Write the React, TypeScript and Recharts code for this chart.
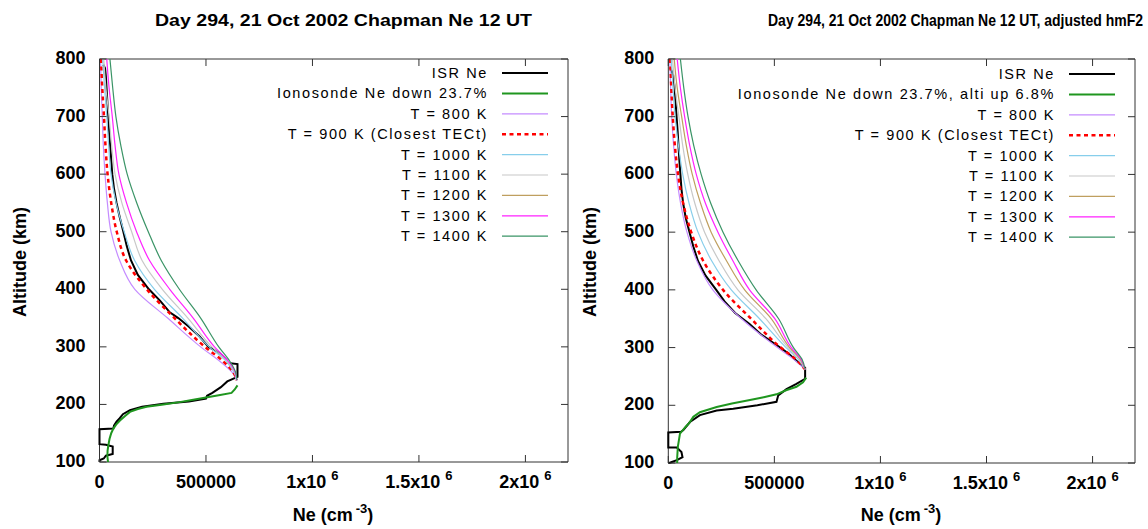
import { ScatterChart, Scatter, XAxis, YAxis, Customized } from 'recharts';

const FONT = '"Liberation Sans", Arial, Helvetica, sans-serif';
const TITLE_FONT = '"Liberation Sans Narrow", "Arial Narrow", "Liberation Sans", Arial, sans-serif';
const AXIS = '#333333';

// axes
const NE_DOMAIN = [0, 2200000];
const ALT_DOMAIN = [100, 800];
const NE_TICKS = [0, 500000, 1000000, 1500000, 2000000];
const NE_TICK_BASE = ['0', '500000', '1x10', '1.5x10', '2x10'];
const NE_TICK_SUP = ['', '', '6', '6', '6'];
const ALT_TICKS = [100, 200, 300, 400, 500, 600, 700, 800];

// ---- left panel: Chapman profiles ----
const MODEL_ALT_L = [800, 750, 700, 650, 600, 550, 500, 450, 400, 350, 300, 275, 255, 242];
const L_T800 = [5000, 8000, 13000, 18000, 26000, 37000, 54000, 95000, 166000, 320000, 475000, 565000, 625000, 645000];
const L_T900 = [7000, 13000, 21000, 28000, 38000, 55000, 81000, 125000, 222000, 352000, 495000, 580000, 630000, 645000];
const L_T1000 = [15000, 24000, 34000, 43000, 54000, 78000, 116000, 165000, 258000, 390000, 515000, 595000, 633000, 645000];
const L_T1100 = [20000, 30000, 45000, 57000, 73000, 105000, 151000, 200000, 295000, 415000, 528000, 600000, 636000, 645000];
const L_T1300 = [34000, 45000, 60000, 73000, 91000, 127000, 174000, 235000, 330000, 440000, 540000, 605000, 638000, 645000];
const L_T1400 = [49000, 62000, 77000, 100000, 130000, 175000, 229000, 290000, 375000, 475000, 560000, 612000, 640000, 645000];

const ISR_ALT_L = [790, 784, 770, 750, 725, 700, 675, 650, 625, 600, 575, 550, 525, 500, 475, 450, 425, 400, 380, 360, 350, 335, 318, 300, 290, 280, 272, 270, 248, 240, 230, 220, 215, 210, 205, 201, 196, 190, 183, 176, 170, 163, 158, 157, 131, 130, 127, 114, 111, 106, 103, 100];
const ISR_NE_L = [18000, 26000, 30000, 33000, 37000, 41000, 45000, 50000, 55000, 60000, 68000, 80000, 95000, 112000, 128000, 148000, 180000, 232000, 285000, 330000, 370000, 420000, 470000, 512000, 560000, 590000, 605000, 648000, 648000, 600000, 570000, 530000, 505000, 500000, 420000, 300000, 200000, 143000, 110000, 95000, 80000, 68000, 65000, 0, 0, 30000, 62000, 62000, 30000, 20000, 0, 0];

const IONO_ALT_L = [100, 110, 120, 130, 140, 150, 158, 165, 172, 180, 187, 192, 196, 200, 204, 208, 212, 216, 220, 226, 233];
const IONO_NE_L = [40000, 37000, 38000, 42000, 47000, 55000, 65000, 78000, 96000, 120000, 143000, 180000, 221000, 300000, 376000, 440000, 500000, 560000, 620000, 635000, 648000];

// ---- right panel: adjusted hmF2 ----
const MODEL_ALT_R = [800, 750, 700, 650, 600, 550, 500, 450, 400, 350, 300, 280, 262];
const R_T800 = [7000, 11000, 16000, 25000, 38000, 58000, 88000, 135000, 210000, 345000, 515000, 590000, 645000];
const R_T900 = [9000, 14000, 21000, 31000, 46000, 70000, 108000, 165000, 258000, 390000, 530000, 600000, 645000];
const R_T1000 = [14000, 22000, 32000, 48000, 68000, 98000, 140000, 205000, 297000, 430000, 555000, 612000, 645000];
const R_T1100 = [20000, 32000, 50000, 68000, 92000, 125000, 171000, 240000, 328000, 460000, 565000, 618000, 645000];
const R_T1200 = [28000, 42000, 63000, 85000, 113000, 152000, 202000, 275000, 360000, 485000, 572000, 622000, 645000];
const R_T1300 = [42000, 57000, 77000, 101000, 132000, 175000, 234000, 305000, 383000, 502000, 580000, 626000, 645000];
const R_T1400 = [57000, 73000, 93000, 120000, 155000, 200000, 258000, 330000, 414000, 520000, 590000, 630000, 645000];

const ISR_ALT_R = [785, 780, 772, 750, 700, 675, 650, 625, 600, 575, 550, 525, 500, 475, 450, 425, 400, 380, 360, 341, 322, 301, 290, 280, 272, 265, 246, 237, 228, 217, 206, 200, 194, 191, 183, 171, 157, 154, 153, 127, 127, 119, 110, 105, 101, 100];
const ISR_NE_R = [8000, 15000, 23000, 30000, 39000, 44000, 48000, 52000, 57000, 62000, 70000, 82000, 100000, 118000, 140000, 175000, 226000, 265000, 315000, 383000, 440000, 524000, 565000, 595000, 620000, 645000, 645000, 604000, 557000, 518000, 510000, 420000, 306000, 228000, 149000, 102000, 71000, 60000, 0, 0, 40000, 62000, 67000, 40000, 10000, 0];

const IONO_ALT_R = [100, 110, 128, 151, 162, 170, 180, 188, 197, 203, 209, 214, 219, 226, 232, 240, 248];
const IONO_NE_R = [42000, 42000, 45000, 55000, 80000, 100000, 118000, 149000, 228000, 300000, 385000, 450000, 510000, 555000, 604000, 635000, 650000];

// legend labels
const LEGEND_NAMES_L = ['ISR Ne', 'Ionosonde Ne down 23.7%', 'T = 800 K', 'T = 900 K (Closest TECt)', 'T = 1000 K', 'T = 1100 K', 'T = 1200 K', 'T = 1300 K', 'T = 1400 K'];
const LEGEND_NAMES_R = ['ISR Ne', 'Ionosonde Ne down 23.7%, alti up 6.8%', 'T = 800 K', 'T = 900 K (Closest TECt)', 'T = 1000 K', 'T = 1100 K', 'T = 1200 K', 'T = 1300 K', 'T = 1400 K'];

type Style = { color: string; width: number; dash?: string };
const STYLES: Style[] = [
  { color: '#000000', width: 2 },
  { color: '#1f961f', width: 2 },
  { color: '#c58cff', width: 1.2 },
  { color: '#ff0000', width: 2.5, dash: '4 3.5' },
  { color: '#87ceeb', width: 1.2 },
  { color: '#c8c8c8', width: 1.2 },
  { color: '#bf9f5f', width: 1.2 },
  { color: '#ff22ff', width: 1.2 },
  { color: '#3a9466', width: 1.2 },
];

const pts = (ne: number[], alt: number[]) => ne.map((v, i) => ({ ne: v, alt: alt[i] }));

type Series = { data: { ne: number; alt: number }[]; style: Style; smooth: boolean };

const LEFT_SERIES: Series[] = [
  { data: pts(ISR_NE_L, ISR_ALT_L), style: STYLES[0], smooth: false },
  { data: pts(IONO_NE_L, IONO_ALT_L), style: STYLES[1], smooth: false },
  { data: pts(L_T800, MODEL_ALT_L), style: STYLES[2], smooth: true },
  { data: pts(L_T900, MODEL_ALT_L), style: STYLES[3], smooth: true },
  { data: pts(L_T1000, MODEL_ALT_L), style: STYLES[4], smooth: true },
  { data: pts(L_T1100, MODEL_ALT_L), style: STYLES[5], smooth: true },
  { data: pts(L_T1300, MODEL_ALT_L), style: STYLES[7], smooth: true },
  { data: pts(L_T1400, MODEL_ALT_L), style: STYLES[8], smooth: true },
];

const RIGHT_SERIES: Series[] = [
  { data: pts(ISR_NE_R, ISR_ALT_R), style: STYLES[0], smooth: false },
  { data: pts(IONO_NE_R, IONO_ALT_R), style: STYLES[1], smooth: false },
  { data: pts(R_T800, MODEL_ALT_R), style: STYLES[2], smooth: true },
  { data: pts(R_T900, MODEL_ALT_R), style: STYLES[3], smooth: true },
  { data: pts(R_T1000, MODEL_ALT_R), style: STYLES[4], smooth: true },
  { data: pts(R_T1100, MODEL_ALT_R), style: STYLES[5], smooth: true },
  { data: pts(R_T1200, MODEL_ALT_R), style: STYLES[6], smooth: true },
  { data: pts(R_T1300, MODEL_ALT_R), style: STYLES[7], smooth: true },
  { data: pts(R_T1400, MODEL_ALT_R), style: STYLES[8], smooth: true },
];

const NoDot = () => null;

function BottomTick(props: any) {
  const { x, y, payload } = props;
  const i = NE_TICKS.indexOf(payload.value);
  const sup = NE_TICK_SUP[i];
  return (
    <g>
      <line x1={x} x2={x} y1={y} y2={y - 7} stroke={AXIS} />
      <text x={x} y={y + 26} textAnchor="middle" fontSize={18} fontWeight="bold" fontFamily={FONT} fill="#000">
        {NE_TICK_BASE[i]}
        {sup && <tspan dx={5} dy={-8} fontSize={13}>{sup}</tspan>}
      </text>
    </g>
  );
}

function TopTick(props: any) {
  const { x, y } = props;
  return <line x1={x} x2={x} y1={y} y2={y + 7} stroke={AXIS} />;
}

function LeftTick(props: any) {
  const { x, y, payload } = props;
  return (
    <g>
      <line x1={x} x2={x + 7} y1={y} y2={y} stroke={AXIS} />
      <text x={x - 14} y={y + 5} textAnchor="end" fontSize={18} fontWeight="bold" fontFamily={FONT} fill="#000">
        {payload.value}
      </text>
    </g>
  );
}

function RightTick(props: any) {
  const { x, y } = props;
  return <line x1={x} x2={x - 7} y1={y} y2={y} stroke={AXIS} />;
}

type PanelProps = {
  left: number;
  series: Series[];
  names: string[];
  title: string;
  titleX: number;
  titleLen: number;
  marginRight: number;
  marginBottom: number;
  yAxisWidth: number;
  yTitleX: number;
  xTitleX: number;
  legendEnd: number;
  legendTop: number;
};

function Panel(p: PanelProps) {
  const Overlay = () => (
    <g>
      <text x={p.titleX} y={26} fontSize={17} fontWeight="bold" fontFamily={TITLE_FONT} fill="#000"
        textLength={p.titleLen} lengthAdjust="spacingAndGlyphs">
        {p.title}
      </text>
      <text x={p.yTitleX} y={262} transform={`rotate(-90 ${p.yTitleX} 262)`} textAnchor="middle" dominantBaseline="central"
        fontSize={18} fontWeight="bold" fontFamily={FONT} fill="#000">
        Altitude (km)
      </text>
      <text x={p.xTitleX} y={521} textAnchor="middle" fontSize={18} fontWeight="bold" fontFamily={FONT} fill="#000">
        Ne (cm<tspan dx={3} dy={-8} fontSize={13}>-3</tspan><tspan dy={8}>)</tspan>
      </text>
      {p.names.map((name, i) => {
        const s = STYLES[i];
        const y = p.legendTop + i * 20.4;
        return (
          <g key={name}>
            <text x={p.legendEnd} y={y + 5} textAnchor="end" fontSize={14.5} letterSpacing={1.6} fontFamily={FONT} fill="#000">
              {name}
            </text>
            <line x1={p.legendEnd + 14} x2={p.legendEnd + 60} y1={y} y2={y} stroke={s.color}
              strokeWidth={s.width} strokeDasharray={s.dash} />
          </g>
        );
      })}
    </g>
  );

  return (
    <div style={{ position: 'absolute', left: p.left, top: 0 }}>
      <ScatterChart width={574} height={529}
        margin={{ top: 58, right: p.marginRight - 1, bottom: p.marginBottom - 1, left: 0 }}>
        <XAxis xAxisId="b" type="number" dataKey="ne" domain={NE_DOMAIN} ticks={NE_TICKS} interval={0}
          height={1} tickSize={0} tickMargin={0} tickLine={false} axisLine={{ stroke: AXIS }} tick={<BottomTick />} />
        <XAxis xAxisId="t" orientation="top" type="number" dataKey="ne" domain={NE_DOMAIN} ticks={NE_TICKS} interval={0}
          height={1} tickSize={0} tickMargin={0} tickLine={false} axisLine={{ stroke: AXIS }} tick={<TopTick />}
          allowDataOverflow />
        <YAxis yAxisId="l" type="number" dataKey="alt" domain={ALT_DOMAIN} ticks={ALT_TICKS} interval={0}
          width={p.yAxisWidth} tickSize={0} tickMargin={0} tickLine={false} axisLine={{ stroke: AXIS }} tick={<LeftTick />} />
        <YAxis yAxisId="r" orientation="right" type="number" dataKey="alt" domain={ALT_DOMAIN} ticks={ALT_TICKS} interval={0}
          width={1} tickSize={0} tickMargin={0} tickLine={false} axisLine={{ stroke: AXIS }} tick={<RightTick />}
          allowDataOverflow />
        {p.series.map((s, i) => (
          <Scatter key={i} xAxisId="b" yAxisId="l" data={s.data} fill={s.style.color} shape={NoDot}
            line={{ stroke: s.style.color, strokeWidth: s.style.width, strokeDasharray: s.style.dash }}
            lineType="joint" lineJointType={s.smooth ? 'monotoneY' : 'linear'} isAnimationActive={false} />
        ))}
        <Customized component={<Overlay />} />
      </ScatterChart>
    </div>
  );
}

export default function App() {
  return (
    <div style={{ position: 'absolute', left: 0, top: 0, width: 1148, height: 529, background: '#fff', overflow: 'hidden' }}>
      <Panel left={0} series={LEFT_SERIES} names={LEGEND_NAMES_L}
        title="Day 294, 21 Oct 2002 Chapman Ne  12 UT" titleX={155} titleLen={377}
        marginRight={6} marginBottom={67} yAxisWidth={99.5} yTitleX={20} xTitleX={333}
        legendEnd={488} legendTop={73} />
      <Panel left={574} series={RIGHT_SERIES} names={LEGEND_NAMES_R}
        title="Day 294, 21 Oct 2002 Chapman Ne  12 UT, adjusted hmF2" titleX={194} titleLen={375}
        marginRight={13} marginBottom={66} yAxisWidth={94.3} yTitleX={16} xTitleX={327}
        legendEnd={481} legendTop={74} />
    </div>
  );
}
